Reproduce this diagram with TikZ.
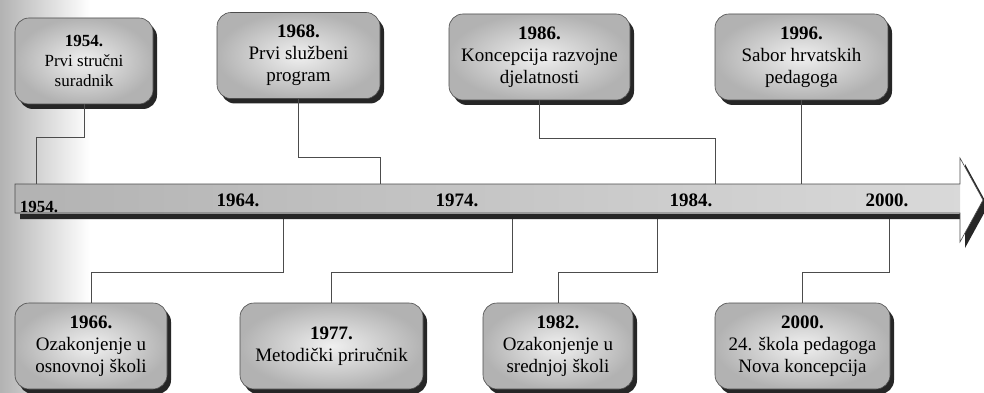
\documentclass[tikz,border=0pt]{standalone}
\usepackage{fontspec}
\setmainfont{Liberation Serif}
\usetikzlibrary{shadows}

\begin{document}
\begin{tikzpicture}[x=1pt, y=-1pt,
    event/.style={draw=black!70, line width=0.6pt, rounded corners=14pt,
      shading=radial, inner color=gray!12, outer color=gray!60,
      drop shadow={shadow xshift=4pt, shadow yshift=-5pt, fill=black!85, opacity=1},
      align=center, inner sep=2pt, minimum height=86pt,
      font=\fontsize{19}{22}\selectfont},
    axislabel/.style={font=\bfseries\fontsize{19}{22}\selectfont},
    link/.style={draw=black!70, line width=0.7pt}]

  \useasboundingbox (0,0) rectangle (984,393);
  \fill[white] (0,0) rectangle (984,393);
  \shade[left color=black!30, right color=white] (0,0) rectangle (90,393);

  % Points on the time axis
  \coordinate (a1954) at (36,184);
  \coordinate (a1968) at (380,184);
  \coordinate (a1986) at (715,184);
  \coordinate (a1996) at (801,184);
  \coordinate (u1966) at (283,216);
  \coordinate (u1977) at (512,216);
  \coordinate (u1982) at (657,216);
  \coordinate (u2000) at (889,216);

  % Events above the axis
  \node[event, minimum width=138pt, font=\fontsize{17}{20}\selectfont] (b1954) at (84,61)
    {\textbf{1954.}\\Prvi stručni\\suradnik};
  \node[event, minimum width=163pt] (b1968) at (298.5,55.5)
    {\textbf{1968.}\\Prvi službeni\\program};
  \node[event, minimum width=181pt] (b1986) at (539.5,57)
    {\textbf{1986.}\\Koncepcija razvojne\\djelatnosti};
  \node[event, minimum width=173pt] (b1996) at (801.5,57)
    {\textbf{1996.}\\Sabor hrvatskih\\pedagoga};

  % Events below the axis
  \node[event, minimum width=152pt] (b1966) at (91,346)
    {\textbf{1966.}\\Ozakonjenje u\\osnovnoj školi};
  \node[event, minimum width=183pt] (b1977) at (331.5,346)
    {\textbf{1977.}\\Metodički priručnik};
  \node[event, minimum width=150pt] (b1982) at (558,346)
    {\textbf{1982.}\\Ozakonjenje u\\srednjoj školi};
  \node[event, minimum width=175pt] (b2000) at (802.5,346)
    {\textbf{2000.}\\24. škola pedagoga\\Nova koncepcija};

  % Links: events above -> axis
  \foreach \yr/\drop in {1954/33, 1968/59, 1986/38} {
    \draw[link] (b\yr.south) -- ++(0,\drop) -| (a\yr);
  }
  \draw[link] (b1996.south) -- (b1996.south |- a1996);

  % Links: axis -> events below
  \foreach \yr in {1966,1977,1982,2000} {
    \draw[link] (u\yr) -- ++(0,56) -| (b\yr.north);
  }

  % Time axis arrow
  \fill[black!85, shift={(5,6)}] (15,184) -- (960,184) -- (960,158) -- (983,200)
    -- (960,242) -- (960,213) -- (15,213) -- cycle;
  \fill[white] (15,184) -- (960,184) -- (960,158) -- (983,200)
    -- (960,242) -- (960,213) -- (15,213) -- cycle;
  \shade[left color=gray!60, right color=gray!30] (15,184) rectangle (960,213);
  \draw[black!70, line width=0.6pt] (15,184) -- (960,184) -- (960,158) -- (983,200)
    -- (960,242) -- (960,213) -- (15,213) -- cycle;

  % Years on the axis
  \node[axislabel, font=\bfseries\fontsize{17}{20}\selectfont] (y1954) at (39,207) {1954.};
  \foreach \yr/\xx in {1964/238, 1974/457, 1984/691, 2000/887} {
    \node[axislabel] (y\yr) at (\xx,200) {\yr.};
  }

\end{tikzpicture}
\end{document}
